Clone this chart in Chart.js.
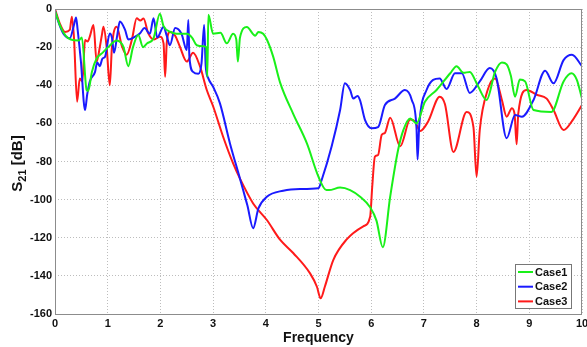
<!DOCTYPE html>
<html>
<head>
<meta charset="utf-8">
<script src="https://cdn.jsdelivr.net/npm/chart.js@4/dist/chart.umd.min.js"></script>
<style>
  html,body{margin:0;padding:0;background:#fff;}
  #wrap{position:relative;width:587px;height:347px;}
</style>
</head>
<body>
<div id="wrap"><canvas id="c" width="587" height="347"></canvas></div>
<script>
// values
const freq1 = [0,0.1,0.2,0.3,0.45,0.51,0.6,0.63,0.7,0.79,0.9,1.01,1.17,1.3,1.39,1.48,1.58,1.67,1.75,1.87,1.99,2.06,2.19,2.31,2.5,2.6,2.69,2.81,2.87,2.89,2.91,3.0,3.14,3.26,3.38,3.44,3.47,3.51,3.64,3.8,3.86,3.95,4.02,4.14,4.27,4.52,4.78,5.0,5.15,5.2,5.41,5.6,5.79,5.98,6.1,6.22,6.36,6.51,6.61,6.74,6.86,7.02,7.24,7.5,7.62,7.75,7.87,8.03,8.19,8.35,8.48,8.57,8.65,8.73,8.82,8.92,9.08,9.42,9.65,9.8,9.9,10];
const case1 = [-1,-9,-14,-16,-16.5,-15,-42.5,-43,-33,-26,-23,-20,-16.5,-20,-30,-20,-13.6,-20,-18,-15.4,-2.5,-9,-12,-13,-13,-15,-19,-19.5,-20,-35.5,-3,-13,-12.5,-18,-13,-16,-27.6,-15,-9.5,-14,-12,-13,-16,-25,-38.5,-55,-70.5,-88,-95,-95,-93.7,-95,-98.5,-104,-111,-125,-98.5,-74,-63.5,-57.4,-60,-48.6,-42.5,-33.7,-30,-33.5,-33,-40.7,-47.7,-33,-28,-29,-35,-46,-37,-38,-53,-54,-38,-33.7,-37,-47];

const freq2 = [0,0.08,0.16,0.28,0.36,0.4,0.43,0.49,0.57,0.61,0.66,0.76,0.8,0.85,0.9,0.95,1.04,1.08,1.12,1.18,1.23,1.33,1.39,1.52,1.61,1.7,1.8,1.87,1.94,2.06,2.12,2.18,2.28,2.4,2.5,2.53,2.55,2.62,2.72,2.78,2.83,2.86,2.91,3.0,3.13,3.32,3.51,3.57,3.65,3.76,3.86,4.02,4.33,4.65,5.0,5.06,5.25,5.41,5.5,5.6,5.66,5.74,5.79,5.88,6.01,6.13,6.26,6.45,6.64,6.77,6.86,6.88,6.91,7.05,7.3,7.43,7.59,7.72,7.87,8.06,8.25,8.38,8.57,8.73,8.86,9.08,9.3,9.46,9.65,9.81,10];
const case2 = [-1,-8,-13,-15.4,-8.4,-4.4,-11,-27,-53,-45,-38,-33,-28,-30,-26,-25,-12.8,-15,-23,-14,-6.6,-11,-16,-14.5,-12.8,-10,-13,-4.9,-15,-9.3,-14,-19,-10,-13,-21.5,-5.8,-25,-33,-34,-28.5,-8.4,-30,-36.4,-40.8,-49.5,-70.5,-89,-95,-103,-115,-104.6,-98.5,-95.3,-94.4,-94,-89.7,-72,-53,-39,-42.5,-47,-45.6,-48,-58,-62.6,-62,-50.4,-47,-42.5,-47.7,-62.6,-79,-61.7,-42.5,-36.4,-42,-33.7,-33.7,-44,-38,-31,-36.4,-67.8,-55.6,-56.5,-47.7,-32.4,-39,-26.8,-24,-30];

const freq3 = [0,0.09,0.19,0.28,0.32,0.36,0.42,0.47,0.52,0.57,0.62,0.66,0.73,0.79,0.85,0.89,0.92,0.98,1.04,1.08,1.17,1.27,1.36,1.46,1.55,1.62,1.68,1.77,1.88,1.99,2.06,2.09,2.12,2.18,2.28,2.37,2.5,2.62,2.75,2.88,3.0,3.19,3.38,3.51,3.76,4.02,4.27,4.52,4.84,4.97,5.04,5.12,5.28,5.53,5.85,5.98,6.02,6.07,6.13,6.2,6.26,6.36,6.55,6.74,6.83,6.93,7.08,7.3,7.4,7.56,7.81,7.94,8.0,8.06,8.21,8.35,8.48,8.57,8.67,8.72,8.76,8.79,8.95,9.14,9.33,9.46,9.65,9.83,10];
const case3 = [0,-7.5,-12,-11,-4,-15,-48.6,-36.4,-38,-16.3,-17,-14.5,-8.4,-27.6,-20,-13.6,-9.3,-20,-40,-20,-9.3,-19.5,-24,-16,-4.9,-6,-5,-12.8,-16,-14.5,-18,-35.5,-18,-12,-14,-19.8,-27.6,-23,-30,-42.5,-51,-67,-81,-89,-102,-110.7,-121,-128,-138.7,-145.7,-151.8,-145.7,-131.7,-121,-114,-109,-93,-77.5,-76.6,-66,-65,-57,-72,-58,-59,-64,-59,-46,-50,-75,-54,-62,-88,-63.5,-42.5,-36.4,-47.7,-56.5,-52,-55,-71,-55,-42.5,-45,-47,-53,-63.5,-58,-50.4];

const seriesNames = ['Case1','Case2','Case3'];
const seriesColors = ['#19f019','#1a1aff','#ff1a1a'];
const xTicks = [0,1,2,3,4,5,6,7,8,9,10];
const yTicks = [0,-20,-40,-60,-80,-100,-120,-140,-160];

const pts = (xs, ys) => xs.map((x,i)=>({x:x, y:ys[i]}));
const allData = [pts(freq1,case1), pts(freq2,case2), pts(freq3,case3)];

const FONT = 'Arial, "Liberation Sans", sans-serif';

const frame = {
  id:'frame',
  afterDatasetsDraw(chart){
    const {ctx, chartArea:a} = chart;
    ctx.save();
    ctx.strokeStyle = '#8c8c8c';
    ctx.lineWidth = 1;
    ctx.strokeRect(a.left+0.5, a.top+0.5, a.right-a.left-1, a.bottom-a.top);
    // legend box, bottom right inside the axes
    const bx = a.right-67, by = a.bottom-50, bw = 56, bh = 44;
    ctx.fillStyle = '#fff';
    ctx.fillRect(bx, by, bw, bh);
    ctx.strokeStyle = '#777';
    ctx.strokeRect(bx+0.5, by+0.5, bw, bh);
    ctx.font = 'bold 11px '+FONT;
    ctx.textBaseline = 'middle';
    chart.data.datasets.forEach((ds,i)=>{
      const yy = by+8+i*14.7;
      ctx.strokeStyle = ds.borderColor;
      ctx.lineWidth = 2;
      ctx.beginPath(); ctx.moveTo(bx+3, yy); ctx.lineTo(bx+18, yy); ctx.stroke();
      ctx.fillStyle = '#111';
      ctx.fillText(ds.label, bx+20, yy+0.5);
    });
    // y axis title with subscript
    ctx.translate(17, (a.top+a.bottom)/2+2);
    ctx.rotate(-Math.PI/2);
    ctx.fillStyle = '#111';
    ctx.textBaseline = 'alphabetic';
    const f1 = 'bold 15px '+FONT, f2 = 'bold 11px '+FONT;
    ctx.font = f1; const wS = ctx.measureText('S').width, wT = ctx.measureText(' [dB]').width;
    ctx.font = f2; const wN = ctx.measureText('21').width;
    let x0 = -(wS+wN+wT)/2;
    ctx.font = f1; ctx.fillText('S', x0, 5);
    ctx.font = f2; ctx.fillText('21', x0+wS, 9);
    ctx.font = f1; ctx.fillText(' [dB]', x0+wS+wN, 5);
    ctx.restore();
  }
};

new Chart(document.getElementById('c').getContext('2d'), {
  type:'line',
  data:{ datasets: allData.map((d,i)=>({
    label: seriesNames[i], data: d,
    borderColor: seriesColors[i], backgroundColor: seriesColors[i],
    borderWidth: 2, pointRadius: 0, fill: false,
    cubicInterpolationMode: 'monotone'
  })) },
  options:{
    responsive:false, animation:false,
    layout:{ padding:{ top:9, right:5, left:0, bottom:0 } },
    plugins:{ legend:{display:false}, tooltip:{enabled:false} },
    scales:{
      x:{ type:'linear', min:0, max:10,
        afterBuildTicks:(s)=>{ s.ticks = xTicks.map(v=>({value:v})); },
        afterFit:(s)=>{ s.height = 33; s.paddingLeft = 0; s.paddingRight = 0; },
        ticks:{ color:'#111', font:{family:FONT, size:11, weight:'bold'}, padding:3, maxRotation:0 },
        grid:{ color:'#bdbdbd', drawTicks:false },
        border:{ display:false, dash:[1,2] },
        title:{ display:true, text:'Frequency', color:'#111', font:{family:FONT, size:14, weight:'bold'}, padding:{top:0,bottom:0} }
      },
      y:{ type:'linear', min:-160, max:0,
        afterBuildTicks:(s)=>{ s.ticks = yTicks.map(v=>({value:v})); },
        afterFit:(s)=>{ s.width = 55; s.paddingTop = 0; s.paddingBottom = 0; },
        ticks:{ color:'#111', font:{family:FONT, size:11, weight:'bold'}, padding:3 },
        grid:{ color:'#bdbdbd', drawTicks:false },
        border:{ display:false, dash:[1,2] }
      }
    }
  },
  plugins:[frame]
});
</script>
</body>
</html>
